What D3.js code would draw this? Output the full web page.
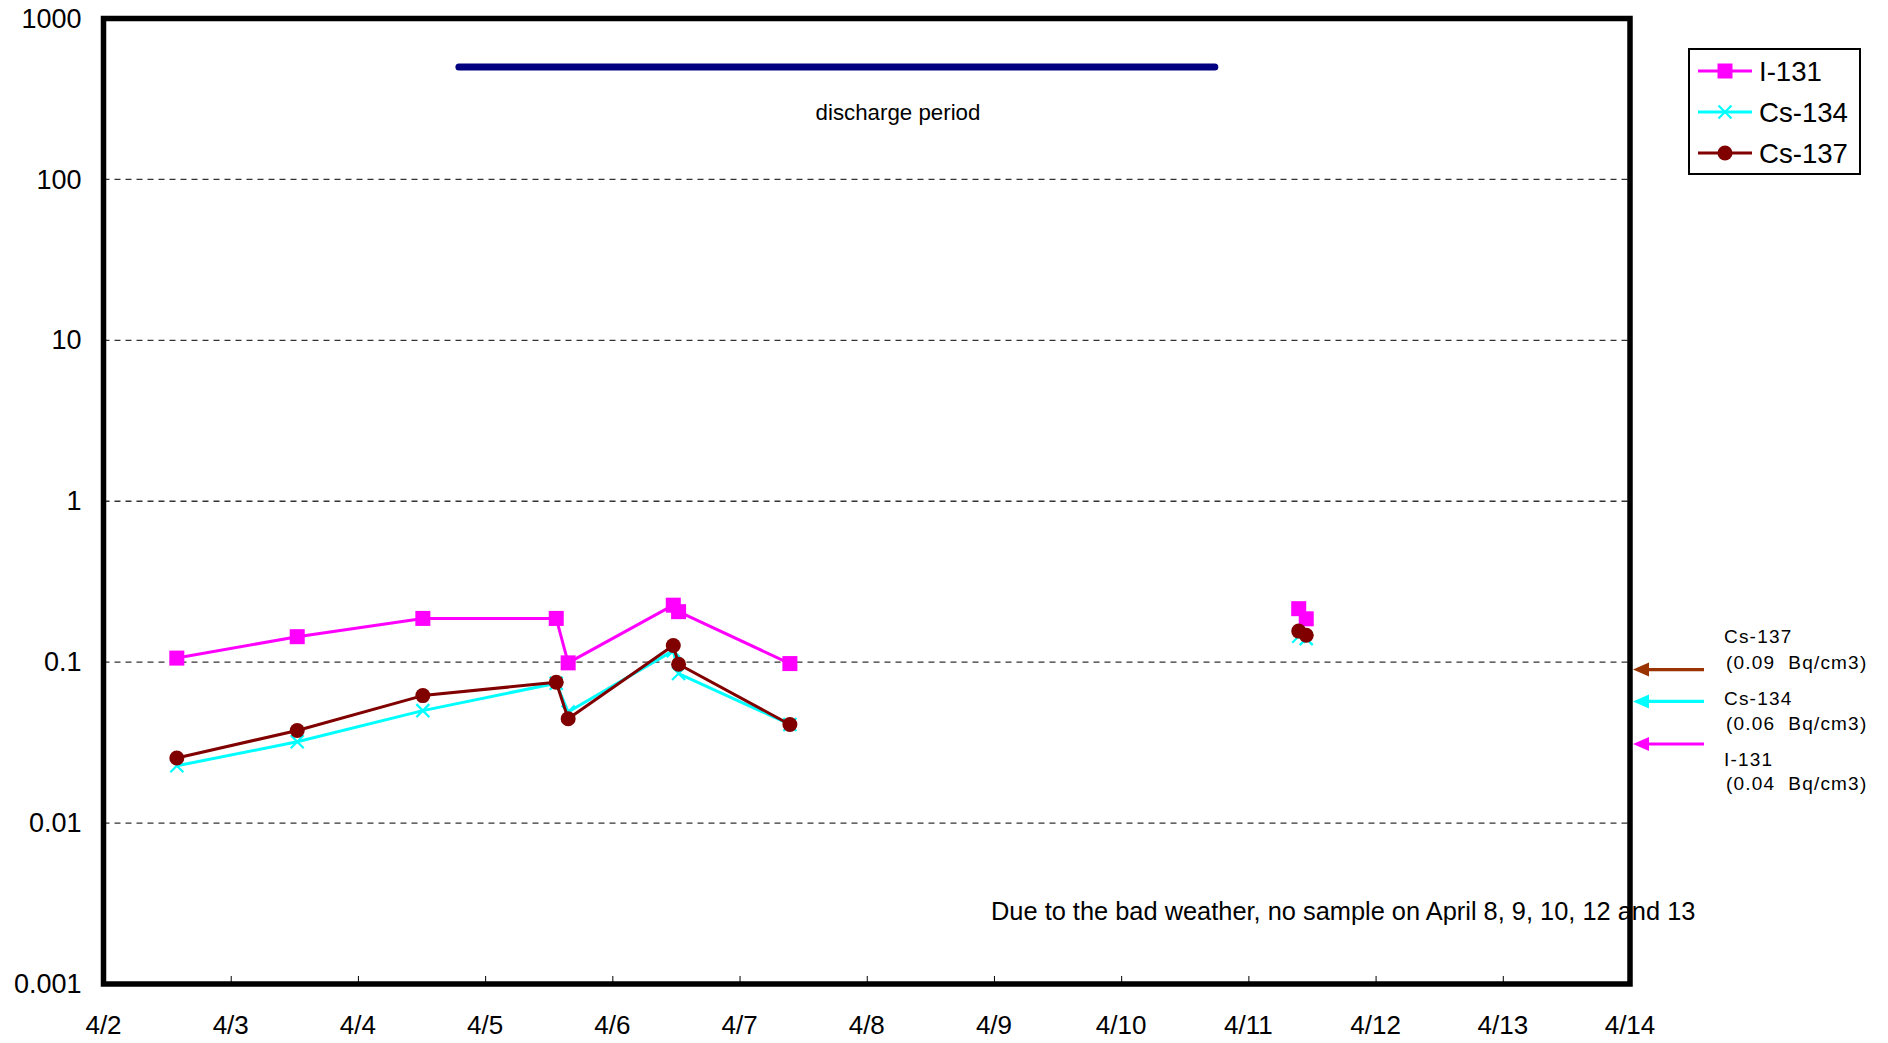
<!DOCTYPE html>
<html><head><meta charset="utf-8">
<script src="https://cdn.jsdelivr.net/npm/d3@7"></script>
<style>
body{margin:0;background:#fff}
svg{display:block}
text{font-family:"Liberation Sans",Arial,sans-serif;fill:#000}
</style>
</head><body>
<svg id="chart" width="1888" height="1043"></svg>
<script>
// ---- data ----
const sampleTimes = ["2011-04-02 13:50","2011-04-03 12:33","2011-04-04 12:15","2011-04-05 13:25","2011-04-05 15:40",
                     "2011-04-06 11:30","2011-04-06 12:30","2011-04-07 09:30","2011-04-11 09:30","2011-04-11 10:55"];
const i131  = [0.106, 0.144, 0.187, 0.187, 0.099, 0.226, 0.206, 0.098, 0.215, 0.186];
const cs134 = [0.0227, 0.032, 0.050, 0.074, 0.049, 0.118, 0.085, 0.041, 0.145, 0.140];
const cs137 = [0.0254, 0.0376, 0.062, 0.075, 0.0445, 0.127, 0.097, 0.041, 0.156, 0.147];
const seriesNames = ["I-131", "Cs-134", "Cs-137"];
const yTickValues = [0.001, 0.01, 0.1, 1, 10, 100, 1000];
const yTickLabels = ["0.001", "0.01", "0.1", "1", "10", "100", "1000"];
const xTickDates = ["2011-04-02","2011-04-03","2011-04-04","2011-04-05","2011-04-06","2011-04-07","2011-04-08",
                    "2011-04-09","2011-04-10","2011-04-11","2011-04-12","2011-04-13","2011-04-14"];
const xTickLabels = ["4/2","4/3","4/4","4/5","4/6","4/7","4/8","4/9","4/10","4/11","4/12","4/13","4/14"];
const dischargeStart = "2011-04-04 19:03";
const dischargeEnd = "2011-04-10 17:40";
const dischargeLevel = 500;
const dischargeText = "discharge period";
const noteText = "Due to the bad weather, no sample on April 8, 9, 10, 12 and 13";
const limitNames = ["Cs-137", "Cs-134", "I-131"];
const limitLabels = ["(0.09  Bq/cm3)", "(0.06  Bq/cm3)", "(0.04  Bq/cm3)"];
const limitArrowLevels = [0.09, 0.057, 0.031];

// ---- styles ----
const seriesColors = ["#FF00FF", "#00FFFF", "#800000"];
const limitColors = ["#993300", "#00FFFF", "#FF00FF"];

const parseT = d3.timeParse("%Y-%m-%d %H:%M");
const parseD = d3.timeParse("%Y-%m-%d");

const L = 103.5, R = 1630, T = 18.5, B = 984;
const svg = d3.select("#chart");
svg.append("rect").attr("width",1888).attr("height",1043).attr("fill","#fff");

const x = d3.scaleTime().domain([parseD(xTickDates[0]), parseD(xTickDates[xTickDates.length-1])]).range([L, R]);
const y = d3.scaleLog().domain([0.001, 1000]).range([B, T]);

// gridlines
svg.append("g").selectAll("line").data(yTickValues.slice(1, -1)).join("line")
  .attr("x1", L).attr("x2", R).attr("y1", d => y(d)).attr("y2", d => y(d))
  .attr("stroke", "#333").attr("stroke-width", 1.3).attr("stroke-dasharray", "6,5");

// y axis labels
const yAxis = d3.axisLeft(y).tickValues(yTickValues).tickFormat((d,i) => yTickLabels[i]).tickSize(0).tickPadding(22);
const gy = svg.append("g").attr("transform", `translate(${L},0)`).call(yAxis);
gy.select(".domain").remove();
gy.selectAll("text").attr("font-size", 27).attr("font-family", '"Liberation Sans", Arial, sans-serif').attr("fill","#000");

// x axis: ticks inward, labels below
const xAxis = d3.axisTop(x).tickValues(xTickDates.map(parseD)).tickFormat("").tickSizeOuter(0).tickSizeInner(8);
const gx = svg.append("g").attr("transform", `translate(0,${B})`).call(xAxis);
gx.select(".domain").remove();
gx.selectAll("line").attr("stroke", "#000").attr("stroke-width", 1);
svg.append("g").selectAll("text").data(xTickDates).join("text")
  .attr("x", d => x(parseD(d))).attr("y", 1034).attr("text-anchor", "middle")
  .attr("font-size", 26).text((d,i) => xTickLabels[i]);

// frame
svg.append("rect").attr("x", L).attr("y", T).attr("width", R - L).attr("height", B - T)
  .attr("fill", "none").attr("stroke", "#000").attr("stroke-width", 5.5);

// discharge period bar
svg.append("line")
  .attr("x1", x(parseT(dischargeStart))).attr("x2", x(parseT(dischargeEnd)))
  .attr("y1", y(dischargeLevel)).attr("y2", y(dischargeLevel))
  .attr("stroke", "#000080").attr("stroke-width", 7).attr("stroke-linecap", "round");
svg.append("text").attr("x", 898).attr("y", 120).attr("text-anchor", "middle")
  .attr("font-size", 22.3).text(dischargeText);

// series
const times = sampleTimes.map(parseT);
const allSeries = [i131, cs134, cs137];
function segments(vals) {
  const segs = []; let cur = [];
  vals.forEach((v, i) => {
    if (i > 0 && (times[i] - times[i-1]) > 1.5 * 86400000) { segs.push(cur); cur = []; }
    cur.push({t: times[i], v});
  });
  segs.push(cur);
  return segs;
}
const line = d3.line().x(d => x(d.t)).y(d => y(d.v));

function drawMarker(g, type, cx, cy, color, s) {
  if (type === 0) {
    g.append("rect").attr("x", cx - s/2).attr("y", cy - s/2).attr("width", s).attr("height", s).attr("fill", color);
  } else if (type === 1) {
    const h = s/2;
    g.append("path").attr("d", `M${cx-h},${cy-h}L${cx+h},${cy+h}M${cx-h},${cy+h}L${cx+h},${cy-h}`)
      .attr("stroke", color).attr("stroke-width", 2.2).attr("fill", "none");
  } else {
    g.append("circle").attr("cx", cx).attr("cy", cy).attr("r", s/2).attr("fill", color);
  }
}
const markerSizes = [15, 13, 15];

allSeries.forEach((vals, si) => {
  const g = svg.append("g");
  segments(vals).forEach(seg => {
    g.append("path").attr("d", line(seg)).attr("fill", "none")
      .attr("stroke", seriesColors[si]).attr("stroke-width", 3).attr("stroke-linejoin", "round");
  });
  vals.forEach((v, i) => drawMarker(g, si, x(times[i]), y(v), seriesColors[si], markerSizes[si]));
});

// note
svg.append("text").attr("x", 991).attr("y", 920).attr("font-size", 25.4).text(noteText);

// legend
const lg = svg.append("g");
lg.append("rect").attr("x", 1689).attr("y", 49).attr("width", 171).attr("height", 125)
  .attr("fill", "#fff").attr("stroke", "#000").attr("stroke-width", 2);
const legendRows = [71, 112, 153];
seriesNames.forEach((n, i) => {
  lg.append("line").attr("x1", 1698).attr("x2", 1752).attr("y1", legendRows[i]).attr("y2", legendRows[i])
    .attr("stroke", seriesColors[i]).attr("stroke-width", 3);
  drawMarker(lg, i, 1725, legendRows[i], seriesColors[i], markerSizes[i]);
  lg.append("text").attr("x", 1759).attr("y", legendRows[i]).attr("dy", "0.36em").attr("font-size", 27.6).text(n);
});

// limit arrows
const ag = svg.append("g");
limitArrowLevels.forEach((lv, i) => {
  const yy = y(lv);
  ag.append("line").attr("x1", 1704).attr("x2", 1646).attr("y1", yy).attr("y2", yy)
    .attr("stroke", limitColors[i]).attr("stroke-width", 3.2);
  ag.append("path").attr("d", `M1633,${yy}L1649,${yy-7}L1649,${yy+7}Z`).attr("fill", limitColors[i]);
});
const nameY = [636, 698, 759];
const labY = [662, 723, 783];
limitNames.forEach((n, i) => {
  ag.append("text").attr("x", 1724).attr("y", nameY[i]).attr("dy", "0.36em")
    .attr("font-size", 19).attr("letter-spacing", 1.2).text(n);
  ag.append("text").attr("x", 1726).attr("y", labY[i]).attr("dy", "0.36em")
    .attr("font-size", 19).attr("letter-spacing", 1.2).style("white-space", "pre").text(limitLabels[i]);
});
</script>
</body></html>
